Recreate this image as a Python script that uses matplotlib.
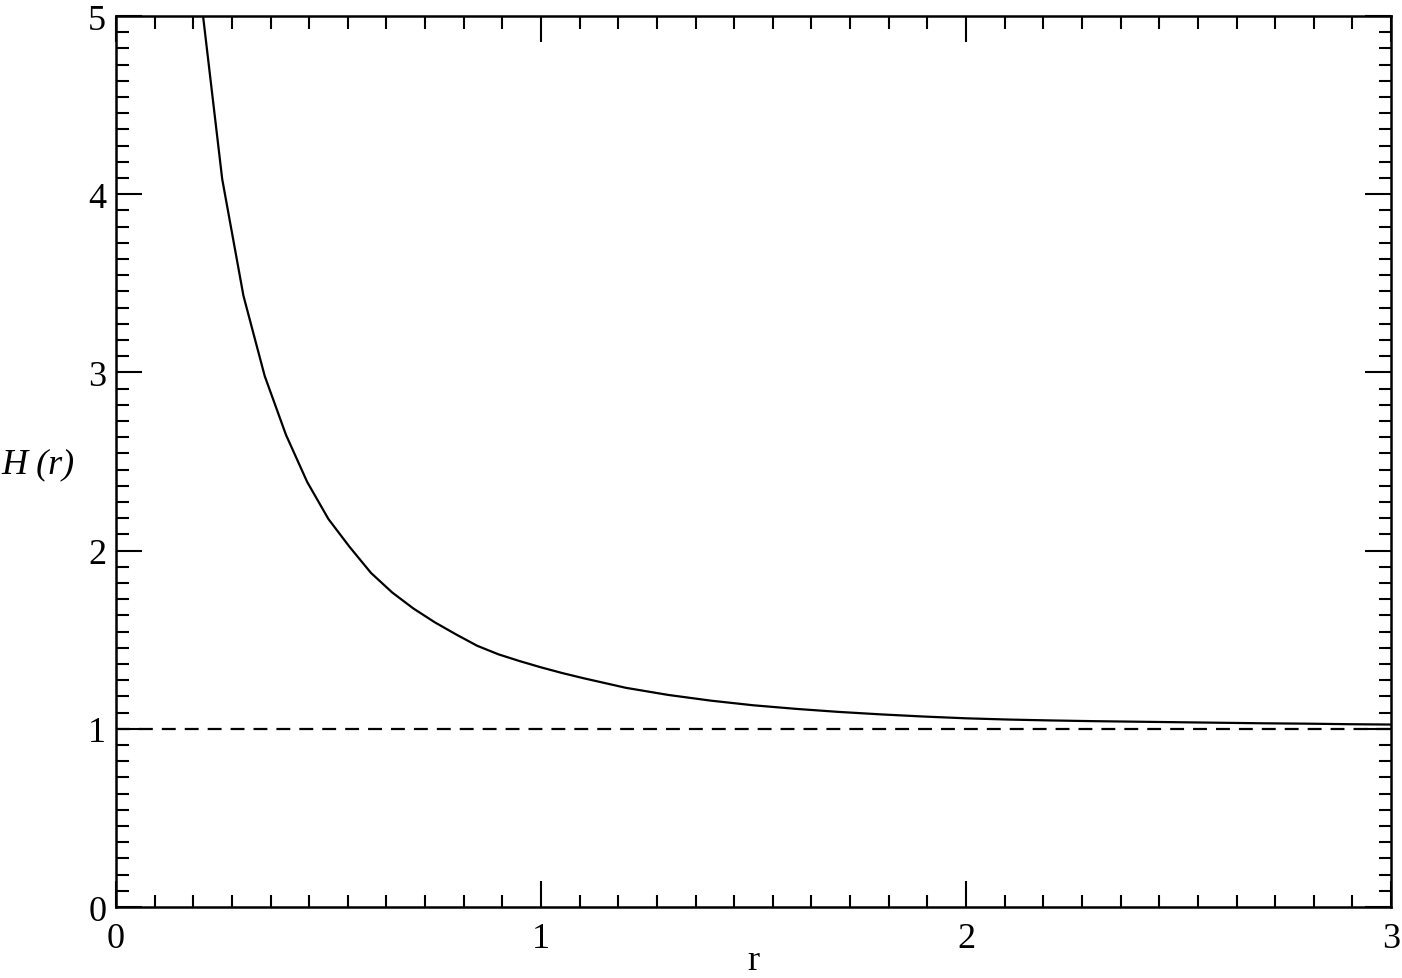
import numpy as np
import matplotlib
matplotlib.use('Agg')
import matplotlib.pyplot as plt
from matplotlib.ticker import MultipleLocator, AutoMinorLocator

plt.rcParams['font.family'] = ['Liberation Serif', 'DejaVu Serif']
plt.rcParams['lines.scale_dashes'] = False

# ---- data ----
r_vals = [0.20, 0.25, 0.30, 0.35, 0.40, 0.45, 0.50, 0.55, 0.60, 0.65,
          0.70, 0.75, 0.80, 0.85, 0.90, 0.95, 1.00, 1.05, 1.10, 1.20,
          1.30, 1.40, 1.50, 1.60, 1.70, 1.80, 1.90, 2.00, 2.10, 2.20,
          2.30, 2.40, 2.50, 2.60, 2.70, 2.80, 2.90, 3.00]
H_vals = [5.10, 4.085, 3.43, 2.98, 2.65, 2.385, 2.177, 2.02, 1.875, 1.765,
          1.675, 1.598, 1.53, 1.466, 1.418, 1.380, 1.345, 1.313, 1.284, 1.230,
          1.190, 1.158, 1.132, 1.112, 1.095, 1.081, 1.069, 1.059, 1.052, 1.047,
          1.043, 1.040, 1.037, 1.034, 1.031, 1.029, 1.026, 1.024]
ref_level = 1.0

xmin, xmax = 0, 3
ymin, ymax = 0, 5

fig = plt.figure(figsize=(14.02, 9.79), dpi=100)
ax = fig.add_axes([0.0827, 0.0725, 0.9095, 0.9101])

ax.plot(r_vals, H_vals, color='black', lw=1.6)
ax.plot([xmin, xmax], [ref_level, ref_level], color='black', lw=1.6,
        linestyle=(0, (10, 6.5)))

ax.set_xlim(xmin, xmax)
ax.set_ylim(ymin, ymax)

ax.xaxis.set_major_locator(MultipleLocator(1))
ax.yaxis.set_major_locator(MultipleLocator(1))
ax.xaxis.set_minor_locator(AutoMinorLocator(11))
ax.yaxis.set_minor_locator(AutoMinorLocator(11))

ax.tick_params(which='both', direction='in', top=True, right=True,
               labelsize=26, width=1.5)
ax.tick_params(axis='x', pad=11)
ax.tick_params(axis='y', pad=7)
ax.tick_params(which='major', length=18.5)
ax.tick_params(which='minor', length=9)
for sp in ax.spines.values():
    sp.set_linewidth(1.8)

ax.set_xlabel('r', fontsize=26, va='baseline')
ax.xaxis.set_label_coords(0.5, -0.0696)
ax.set_ylabel('H (r)', fontsize=26, fontstyle='italic', rotation=0,
              ha='center', va='center')
ax.yaxis.set_label_coords(-0.061, 0.497)

fig.savefig('out.png', dpi=100)
